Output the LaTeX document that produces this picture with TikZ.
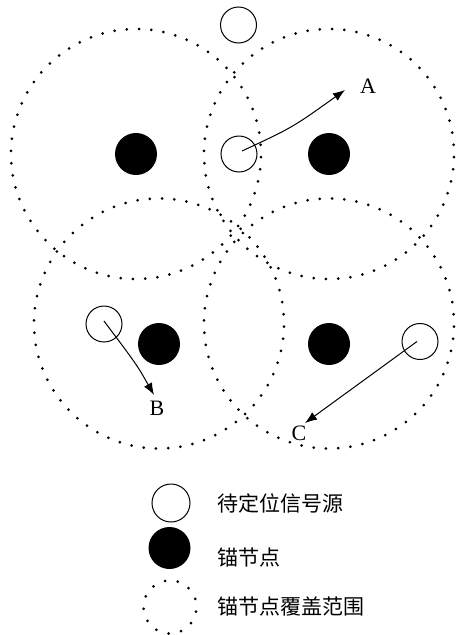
\documentclass[tikz,border=0pt]{standalone}
\usepackage{fontspec}
\setmainfont{Liberation Serif}
\newfontfamily\cjk{Noto Sans CJK SC}
\usetikzlibrary{arrows.meta}
\begin{document}
\begin{tikzpicture}[x=1pt,y=-1pt,
  src/.style={circle,draw,line width=1pt,minimum size=36pt,inner sep=0pt},
  anc/.style={circle,fill=black,minimum size=42pt,inner sep=0pt},
  arr/.style={line width=1pt,-{Latex[length=12pt,width=9pt]}},
  lbl/.style={font=\fontsize{22}{22}\selectfont,inner sep=0pt},
  leg/.style={font=\cjk\fontsize{21}{21}\selectfont,anchor=west,inner sep=0pt}
]
\useasboundingbox (0,0) rectangle (458,635);
\fill[white] (0,0) rectangle (458,635);
% coverage ranges (dotted circles)
\foreach \cx/\cy in {136/154, 329/154, 159/323.5, 329/323.5} {
  \foreach \k in {0,...,63} \fill (\cx,\cy) ++(\k*5.625+1.4:125) circle (1.5pt);
}
% anchor nodes
\node[anc] (n1) at (136,154) {};
\node[anc] (n2) at (329,154) {};
\node[anc] (n3) at (159,344) {};
\node[anc] (n4) at (329,344) {};
% sources
\node[src] (s1) at (238.5,25) {};
\node[src] (s2) at (239,154) {};
\node[src] (s3) at (104,324) {};
\node[src] (s4) at (420,341.5) {};
% arrow ends and labels
\coordinate (ta) at (345,90);
\coordinate (tb) at (154,395);
\coordinate (tc) at (305,423);
\node[lbl] (la) at (368,86) {A};
\node[lbl] (lb) at (157,408) {B};
\node[lbl] (lc) at (299,433) {C};
\draw[arr] ([shift={(3,-3)}]s2.center) .. controls (292.5,127.5) .. (ta);
\draw[arr] ([shift={(0,-3)}]s3.center) .. controls (137,365) .. (tb);
\draw[arr] ([shift={(-3,0)}]s4.center) -- (tc);
% legend
\node[src,minimum size=38pt] (k1) at (171,503) {};
\node[anc] (k2) at (169.5,548) {};
\coordinate (k3) at (170,607);
\foreach \k in {0,...,12} \fill (k3) ++(\k*27.69+10:26.5) circle (1.5pt);
\node[leg] (t1) at (217,503) {待定位信号源};
\node[leg] (t2) at (217,558) {锚节点};
\node[leg] (t3) at (217,607) {锚节点覆盖范围};
\end{tikzpicture}
\end{document}
